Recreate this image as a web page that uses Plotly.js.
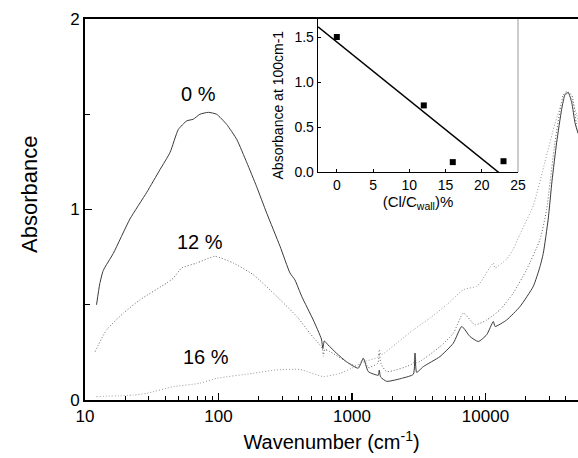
<!DOCTYPE html>
<html>
<head>
<meta charset="utf-8">
<script src="https://cdn.plot.ly/plotly-3.0.1.min.js"></script>
<style>html,body{margin:0;padding:0;background:#fff;}#chart{width:578px;height:458px;}</style>
</head>
<body>
<div id="chart"></div>
<script>
// ---- Main spectra (wavenumber in cm-1, absorbance) ----
const wn0 = [12.2, 12.9, 13.7, 16.3, 21.7, 29, 36.5, 43.4, 50, 57.8, 64.7, 72.6, 84, 96.8, 115, 137, 163, 193, 230, 289, 343, 374, 420, 513, 590, 605, 620, 660, 767, 912, 1114, 1216, 1325, 1575, 1600, 1640, 1820, 2400, 2880, 2965, 3050, 3420, 4560, 5740, 6640, 7660, 8840, 10200, 11450, 11800, 14400, 18100, 22800, 25600, 27100, 29500, 31500, 34100, 37200, 39500, 41700, 44300, 46800, 49300];
const abs0 = [0.50, 0.61, 0.68, 0.77, 0.95, 1.09, 1.21, 1.30, 1.42, 1.465, 1.474, 1.50, 1.51, 1.50, 1.447, 1.368, 1.246, 1.12, 0.98, 0.807, 0.667, 0.63, 0.544, 0.42, 0.32, 0.27, 0.31, 0.29, 0.245, 0.20, 0.167, 0.219, 0.149, 0.13, 0.157, 0.12, 0.098, 0.115, 0.135, 0.245, 0.145, 0.175, 0.228, 0.298, 0.386, 0.333, 0.307, 0.342, 0.412, 0.386, 0.42, 0.49, 0.596, 0.70, 0.77, 0.95, 1.15, 1.35, 1.526, 1.605, 1.614, 1.56, 1.456, 1.40];

const wn12 = [11.9, 14.5, 19.4, 25.8, 40.9, 45.9, 53, 68.7, 94.2, 129, 182, 273, 390, 484, 600, 610, 625, 680, 912, 1114, 1216, 1325, 1560, 1600, 1650, 1820, 2880, 2965, 3050, 4560, 5740, 6830, 8340, 10200, 12850, 16100, 20300, 25600, 28700, 33100, 38200, 40500, 44300, 48100, 49300];
const abs12 = [0.254, 0.368, 0.456, 0.526, 0.614, 0.64, 0.693, 0.719, 0.754, 0.719, 0.658, 0.544, 0.435, 0.35, 0.27, 0.23, 0.265, 0.255, 0.2, 0.175, 0.219, 0.17, 0.193, 0.245, 0.19, 0.149, 0.193, 0.25, 0.195, 0.28, 0.35, 0.456, 0.395, 0.42, 0.474, 0.56, 0.684, 0.842, 1.0, 1.35, 1.6, 1.62, 1.6, 1.44, 1.40];

const wn16 = [12.2, 23, 29, 45.9, 72.6, 97, 182, 273, 408, 610, 813, 995, 1216, 1560, 1600, 1650, 2162, 2880, 3840, 5120, 6830, 8570, 9100, 11450, 11800, 14400, 16100, 18100, 22800, 27900, 33100, 38200, 41000, 44300, 48100, 49300];
const abs16 = [0.018, 0.026, 0.035, 0.07, 0.088, 0.114, 0.14, 0.158, 0.16, 0.123, 0.14, 0.167, 0.2, 0.225, 0.265, 0.237, 0.298, 0.368, 0.43, 0.5, 0.579, 0.596, 0.614, 0.719, 0.693, 0.74, 0.79, 0.87, 1.02, 1.25, 1.45, 1.58, 1.61, 1.58, 1.5, 1.46];

const curveLabels = ['0 %', '12 %', '16 %'];

// ---- Inset data ----
const ratio = [0, 12, 16, 23];
const abs100 = [1.5, 0.74, 0.11, 0.12];

// ---- Tick labels ----
const xTickVals = [10, 100, 1000, 10000];
const xTickText = ['10', '100', '1000', '10000'];
const yTickVals = [0, 1, 2];
const yMinorVals = [0.5, 1.5];
const insetXTicks = [0, 5, 10, 15, 20, 25];
const insetYTicks = [0, 0.5, 1.0, 1.5];
const insetYText = ['0.0', '0.5', '1.0', '1.5'];

// minor log ticks 2..9 of each decade
const xMinor = [];
[10, 100, 1000, 10000].forEach(d => { for (let k = 2; k <= 9; k++) xMinor.push(d * k); });

// least-squares fit of inset points
const n = ratio.length;
const mx = ratio.reduce((a, b) => a + b, 0) / n;
const my = abs100.reduce((a, b) => a + b, 0) / n;
let sxy = 0, sxx = 0;
for (let i = 0; i < n; i++) { sxy += (ratio[i] - mx) * (abs100[i] - my); sxx += (ratio[i] - mx) ** 2; }
const slope = sxy / sxx, icpt = my - slope * mx;
const insetRange = [-2.6, 25];
const fitX = insetRange.slice();
const fitY = fitX.map(x => icpt + slope * x);

const FONT = 'Liberation Sans, Arial, Helvetica, sans-serif';

const traces = [
  {x: wn0, y: abs0, type: 'scatter', mode: 'lines', line: {color: '#3a3a3a', width: 1, shape: 'spline', smoothing: 0.5}, xaxis: 'x', yaxis: 'y', name: '0 %'},
  {x: wn12, y: abs12, type: 'scatter', mode: 'lines', line: {color: '#666', width: 1, dash: '1px,2px', shape: 'spline', smoothing: 0.5}, xaxis: 'x', yaxis: 'y', name: '12 %'},
  {x: wn16, y: abs16, type: 'scatter', mode: 'lines', line: {color: '#999', width: 1, dash: '1px,2px', shape: 'spline', smoothing: 0.5}, xaxis: 'x', yaxis: 'y', name: '16 %'},
  {x: fitX, y: fitY, type: 'scatter', mode: 'lines', line: {color: '#000', width: 1.5}, xaxis: 'x2', yaxis: 'y2', name: 'fit'},
  {x: ratio, y: abs100, type: 'scatter', mode: 'markers', marker: {symbol: 'square', size: 6, color: '#000'}, xaxis: 'x2', yaxis: 'y2', name: 'data'}
];

const layout = {
  width: 578, height: 458,
  margin: {l: 85, r: 0, t: 19, b: 58},
  paper_bgcolor: '#fff', plot_bgcolor: '#fff',
  showlegend: false,
  font: {family: FONT, color: '#000'},
  xaxis: {
    type: 'log', range: [1, 4.693], domain: [0, 1],
    showline: true, linewidth: 2, linecolor: '#000', mirror: true,
    ticks: 'inside', ticklen: 7, tickwidth: 1.5, tickcolor: '#000',
    tickmode: 'array', tickvals: xTickVals, ticktext: xTickText,
    tickfont: {size: 17, family: FONT},
    minor: {ticks: 'inside', ticklen: 4, tickwidth: 1.2, tickcolor: '#000', tickmode: 'array', tickvals: xMinor, showgrid: false},
    showgrid: false, zeroline: false,
    title: {text: 'Wavenumber (cm<sup>-1</sup>)', font: {size: 20, family: FONT}, standoff: 10}
  },
  yaxis: {
    range: [0, 2], domain: [0, 1],
    showline: true, linewidth: 2, linecolor: '#000', mirror: false,
    ticks: 'inside', ticklen: 7, tickwidth: 1.5, tickcolor: '#000',
    tickmode: 'array', tickvals: yTickVals,
    tickfont: {size: 17, family: FONT},
    minor: {ticks: 'inside', ticklen: 5, tickwidth: 1.2, tickcolor: '#000', tickmode: 'array', tickvals: yMinorVals, showgrid: false},
    showgrid: false, zeroline: false
  },
  xaxis2: {
    domain: [0.4726, 0.8783], anchor: 'y2', range: insetRange,
    showline: true, linewidth: 1.3, linecolor: '#000',
    ticks: 'inside', ticklen: 3, tickwidth: 1, tickcolor: '#000',
    tickmode: 'array', tickvals: insetXTicks,
    tickfont: {size: 14, family: FONT},
    showgrid: false, zeroline: false,
    title: {text: '(Cl/C<sub>wall</sub>)%', font: {size: 15, family: FONT}, standoff: 4}
  },
  yaxis2: {
    domain: [0.5984, 1], anchor: 'x2', range: [0, 1.7],
    showline: true, linewidth: 1.3, linecolor: '#000',
    ticks: 'inside', ticklen: 3, tickwidth: 1, tickcolor: '#000',
    tickmode: 'array', tickvals: insetYTicks, ticktext: insetYText,
    tickfont: {size: 14, family: FONT},
    showgrid: false, zeroline: false
  },
  shapes: [
    {type: 'line', xref: 'x2 domain', yref: 'y2 domain', x0: 1, x1: 1, y0: 0, y1: 1, line: {color: '#999', width: 1}}
  ],
  annotations: [
    {text: 'Absorbance', xref: 'paper', yref: 'paper', x: -0.1116, y: 0.5407, showarrow: false, textangle: -90, font: {size: 22, family: FONT}, xanchor: 'center', yanchor: 'middle'},
    {text: 'Absorbance at 100cm-1', xref: 'paper', yref: 'paper', x: 0.3915, y: 0.773, showarrow: false, textangle: -90, font: {size: 14, family: FONT}, xanchor: 'center', yanchor: 'middle'},
    {text: curveLabels[0], xref: 'x', yref: 'y', x: 1.85, y: 1.605, showarrow: false, font: {size: 20, family: FONT}},
    {text: curveLabels[1], xref: 'x', yref: 'y', x: 1.858, y: 0.83, showarrow: false, font: {size: 20, family: FONT}},
    {text: curveLabels[2], xref: 'x', yref: 'y', x: 1.906, y: 0.225, showarrow: false, font: {size: 20, family: FONT}}
  ]
};

Plotly.newPlot('chart', traces, layout, {staticPlot: true, displayModeBar: false});
</script>
</body>
</html>
